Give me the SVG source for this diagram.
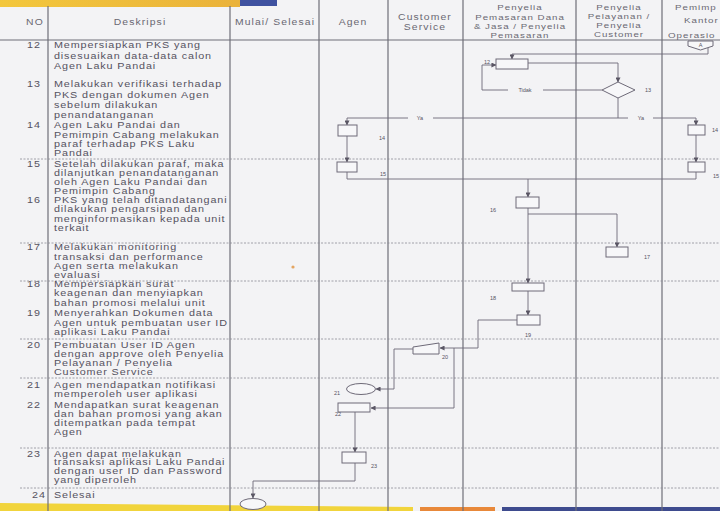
<svg xmlns="http://www.w3.org/2000/svg" width="720" height="511" viewBox="0 0 720 511">
<defs>
<marker id="arr" viewBox="0 0 6 6" refX="5.5" refY="3" markerWidth="5" markerHeight="5" orient="auto" markerUnits="userSpaceOnUse"><path d="M0,0 L6,3 L0,6 z" fill="#5a5664"/></marker>
<linearGradient id="topband" x1="0" x2="1" y1="0" y2="0"><stop offset="0" stop-color="#f3c73c"/><stop offset="1" stop-color="#eab23a"/></linearGradient>
</defs>
<style>
.bg{fill:#f3f3f5}
.grid{stroke:#6f6f78;stroke-width:1.2;fill:none}
.row{stroke:#8a8a94;stroke-width:0.8;stroke-dasharray:2 1.5;fill:none}
.t{font-family:"Liberation Sans",Arial,sans-serif;font-size:8.3px;letter-spacing:0.68px;fill:#55525f}
.n{font-family:"Liberation Sans",Arial,sans-serif;font-size:8.3px;letter-spacing:0.8px;fill:#55525f;text-anchor:end}
.h{font-family:"Liberation Sans",Arial,sans-serif;font-size:8.3px;letter-spacing:0.9px;fill:#6a6872;text-anchor:middle}
.hs{font-family:"Liberation Sans",Arial,sans-serif;font-size:7.8px;letter-spacing:0.8px;fill:#6a6872;text-anchor:middle}
.hl{font-family:"Liberation Sans",Arial,sans-serif;font-size:7.8px;letter-spacing:0.8px;fill:#6a6872}
.box{fill:#f7f7f9;stroke:#6e6a78;stroke-width:1}
.c{fill:none;stroke:#6e6a78;stroke-width:0.9}
.ca{fill:none;stroke:#6e6a78;stroke-width:0.9;marker-end:url(#arr)}
.l{font-family:"Liberation Sans",Arial,sans-serif;font-size:5.5px;fill:#55525f;text-anchor:middle}
</style>
<rect class="bg" x="0" y="0" width="720" height="511"/>
<rect x="0" y="0" width="240" height="7" fill="url(#topband)"/>
<rect x="240" y="0" width="37" height="6" fill="#3f52a0"/>
<polygon points="0,503 413,507 413,511 0,511" fill="#f1d43c"/>
<polygon points="420,507 495,507 495,511 420,511" fill="#e8883a"/>
<polygon points="502,507 720,507 720,511 502,511" fill="#3e4b8e"/>
<circle cx="293" cy="267" r="1.6" fill="#e0913c" opacity="0.8"/>
<g id="grid">
<line class="grid" x1="0" y1="40" x2="720" y2="40"/>
<line class="grid" x1="48" y1="6" x2="48" y2="511"/>
<line class="grid" x1="230" y1="6" x2="230" y2="511"/>
<line class="grid" x1="319" y1="0" x2="319" y2="511"/>
<line class="grid" x1="388" y1="0" x2="388" y2="511"/>
<line class="grid" x1="463" y1="0" x2="463" y2="511"/>
<line class="grid" x1="576" y1="0" x2="576" y2="511"/>
<line class="grid" x1="662" y1="0" x2="662" y2="511"/>
<line class="row" x1="20" y1="159" x2="720" y2="159"/>
<line class="row" x1="20" y1="243" x2="720" y2="243"/>
<line class="row" x1="20" y1="281" x2="720" y2="281"/>
<line class="row" x1="20" y1="339" x2="720" y2="339"/>
<line class="row" x1="20" y1="378" x2="720" y2="378"/>
<line class="row" x1="20" y1="448" x2="720" y2="448"/>
<line class="row" x1="20" y1="488" x2="720" y2="488"/>
</g>
<g id="header">
<text class="h" transform="translate(35,25) scale(1.25,1)">NO</text>
<text class="h" transform="translate(140,25) scale(1.25,1)">Deskripsi</text>
<text class="h" transform="translate(275,25) scale(1.25,1)">Mulai/ Selesai</text>
<text class="h" transform="translate(353,25) scale(1.25,1)">Agen</text>
<text class="h" transform="translate(425,20) scale(1.25,1)">Customer</text>
<text class="h" transform="translate(425,29.5) scale(1.25,1)">Service</text>
<text class="hs" transform="translate(520,10) scale(1.25,1)">Penyelia</text>
<text class="hs" transform="translate(520,19.5) scale(1.25,1)">Pemasaran Dana</text>
<text class="hs" transform="translate(520,29) scale(1.25,1)">&amp; Jasa / Penyelia</text>
<text class="hs" transform="translate(520,38) scale(1.25,1)">Pemasaran</text>
<text class="hs" transform="translate(619,10) scale(1.25,1)">Penyelia</text>
<text class="hs" transform="translate(619,19) scale(1.25,1)">Pelayanan /</text>
<text class="hs" transform="translate(619,28) scale(1.25,1)">Penyelia</text>
<text class="hs" transform="translate(619,36.5) scale(1.25,1)">Customer</text>
<text class="hl" transform="translate(675,10) scale(1.25,1)">Pemimp</text>
<text class="hl" transform="translate(684,23) scale(1.25,1)">Kantor</text>
<text class="hl" transform="translate(668,38) scale(1.25,1)">Operasio</text>
</g>
<g id="rows" transform="scale(1.3,1)">
<text class="n" x="31.5" y="48.5">12</text>
<text class="t" x="41.5" y="48.5">Mempersiapkan PKS yang</text>
<text class="t" x="41.5" y="59">disesuaikan data-data calon</text>
<text class="t" x="41.5" y="69">Agen Laku Pandai</text>
<text class="n" x="31.5" y="87.5">13</text>
<text class="t" x="41.5" y="87.5">Melakukan verifikasi terhadap</text>
<text class="t" x="41.5" y="98">PKS dengan dokumen Agen</text>
<text class="t" x="41.5" y="108">sebelum dilakukan</text>
<text class="t" x="41.5" y="118">penandatanganan</text>
<text class="n" x="31.5" y="128">14</text>
<text class="t" x="41.5" y="128">Agen Laku Pandai dan</text>
<text class="t" x="41.5" y="138">Pemimpin Cabang melakukan</text>
<text class="t" x="41.5" y="147">paraf terhadap PKS Laku</text>
<text class="t" x="41.5" y="156">Pandai</text>
<text class="n" x="31.5" y="167.5">15</text>
<text class="t" x="41.5" y="167.5">Setelah dilakukan paraf, maka</text>
<text class="t" x="41.5" y="176.5">dilanjutkan penandatanganan</text>
<text class="t" x="41.5" y="185.5">oleh Agen Laku Pandai dan</text>
<text class="t" x="41.5" y="194.5">Pemimpin Cabang</text>
<text class="n" x="31.5" y="203.5">16</text>
<text class="t" x="41.5" y="203.5">PKS yang telah ditandatangani</text>
<text class="t" x="41.5" y="212.5">dilakukan pengarsipan dan</text>
<text class="t" x="41.5" y="222">menginformasikan kepada unit</text>
<text class="t" x="41.5" y="231">terkait</text>
<text class="n" x="31.5" y="250.5">17</text>
<text class="t" x="41.5" y="250.5">Melakukan monitoring</text>
<text class="t" x="41.5" y="260">transaksi dan performance</text>
<text class="t" x="41.5" y="269.5">Agen serta melakukan</text>
<text class="t" x="41.5" y="278.5">evaluasi</text>
<text class="n" x="31.5" y="287.5">18</text>
<text class="t" x="41.5" y="287.5">Mempersiapkan surat</text>
<text class="t" x="41.5" y="296.5">keagenan dan menyiapkan</text>
<text class="t" x="41.5" y="306">bahan promosi melalui unit</text>
<text class="n" x="31.5" y="316.5">19</text>
<text class="t" x="41.5" y="316.5">Menyerahkan Dokumen data</text>
<text class="t" x="41.5" y="326">Agen untuk pembuatan user ID</text>
<text class="t" x="41.5" y="335.5">aplikasi Laku Pandai</text>
<text class="n" x="31.5" y="348.5">20</text>
<text class="t" x="41.5" y="348.5">Pembuatan User ID Agen</text>
<text class="t" x="41.5" y="357.5">dengan approve oleh Penyelia</text>
<text class="t" x="41.5" y="366.5">Pelayanan / Penyelia</text>
<text class="t" x="41.5" y="375.5">Customer Service</text>
<text class="n" x="31.5" y="388.5">21</text>
<text class="t" x="41.5" y="388.5">Agen mendapatkan notifikasi</text>
<text class="t" x="41.5" y="397.5">memperoleh user aplikasi</text>
<text class="n" x="31.5" y="408.5">22</text>
<text class="t" x="41.5" y="408.5">Mendapatkan surat keagenan</text>
<text class="t" x="41.5" y="417.5">dan bahan promosi yang akan</text>
<text class="t" x="41.5" y="426.5">ditempatkan pada tempat</text>
<text class="t" x="41.5" y="435.5">Agen</text>
<text class="n" x="31.5" y="456.5">23</text>
<text class="t" x="41.5" y="456.5">Agen dapat melakukan</text>
<text class="t" x="41.5" y="465.5">transaksi aplikasi Laku Pandai</text>
<text class="t" x="41.5" y="474.5">dengan user ID dan Password</text>
<text class="t" x="41.5" y="483.5">yang diperoleh</text>
<text class="n" x="35.4" y="498">24</text>
<text class="t" x="41.5" y="498">Selesai</text>
</g>
<g id="connectors">
<path class="ca" d="M708,48 V54 H512 V59"/>
<path class="ca" d="M528,63 H618 V82"/>
<path class="c" d="M602,90 H543"/>
<path class="ca" d="M508,90 H482 V65 H496"/>
<text class="l" x="525" y="92">Tidak</text>
<path class="c" d="M618,98 V118"/>
<path class="c" d="M347,118 H408 M433,118 H628 M653,118 H696"/>
<text class="l" x="420" y="120">Ya</text>
<text class="l" x="641" y="120">Ya</text>
<path class="ca" d="M347,118 V125"/>
<path class="ca" d="M696,118 V125"/>
<path class="ca" d="M347,136 V162"/>
<path class="ca" d="M696,135 V162"/>
<path class="c" d="M347,172 V179 H696 V172"/>
<path class="ca" d="M528,179 V197"/>
<path class="ca" d="M528,208 V283"/>
<path class="ca" d="M528,214 H617 V247"/>
<path class="ca" d="M528,291 V315"/>
<path class="ca" d="M517,320 H478 V348 H440"/>
<path class="ca" d="M454,348 V408 H371"/>
<path class="ca" d="M413,349 H394 V389 H376"/>
<path class="ca" d="M355,412 V452"/>
<path class="ca" d="M355,463 V481 H253 V498"/>
</g>
<g id="nA"><polygon class="box" points="688,41 713,41 713,46 700.5,50 688,46"/><text class="l" x="700.5" y="47">A</text></g>
<g id="n12"><rect class="box" x="496" y="59" width="32" height="10"/><text class="l" x="487" y="64">12</text></g>
<g id="n13"><polygon class="box" points="618,82 635,90 618,98 602,90"/><text class="l" x="648" y="92">13</text></g>
<g id="n14a"><rect class="box" x="338" y="125" width="19" height="11"/><text class="l" x="382" y="140">14</text></g>
<g id="n15a"><rect class="box" x="337" y="162" width="20" height="10"/><text class="l" x="383" y="176">15</text></g>
<g id="n14p"><rect class="box" x="688" y="125" width="17" height="10"/><text class="l" x="715" y="132">14</text></g>
<g id="n15p"><rect class="box" x="688" y="162" width="17" height="10"/><text class="l" x="716" y="178">15</text></g>
<g id="n16"><rect class="box" x="516" y="197" width="23" height="11"/><text class="l" x="493" y="212">16</text></g>
<g id="n17"><rect class="box" x="606" y="247" width="22" height="10"/><text class="l" x="647" y="259">17</text></g>
<g id="n18"><rect class="box" x="512" y="283" width="32" height="8"/><text class="l" x="493" y="300">18</text></g>
<g id="n19"><rect class="box" x="517" y="315" width="23" height="10"/><text class="l" x="528" y="337">19</text></g>
<g id="n20"><polygon class="box" points="413,347 439,343 439,354 413,354"/><text class="l" x="445" y="359">20</text></g>
<g id="n21"><ellipse class="box" cx="361" cy="389" rx="14.5" ry="5.5"/><text class="l" x="337" y="395">21</text></g>
<g id="n22"><rect class="box" x="338" y="403" width="32" height="9"/><text class="l" x="338" y="416">22</text></g>
<g id="n23"><rect class="box" x="342" y="452" width="24" height="11"/><text class="l" x="374" y="468">23</text></g>
<g id="nEnd"><ellipse class="box" cx="253" cy="504" rx="13" ry="5.5"/></g>
</svg>
